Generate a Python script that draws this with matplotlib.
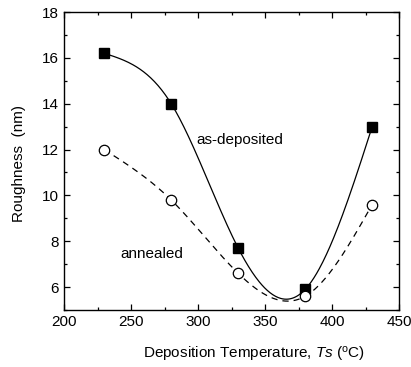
import numpy as np
import matplotlib
matplotlib.use("Agg")
import matplotlib.pyplot as plt

plt.rcParams['font.family'] = ['Liberation Sans', 'DejaVu Sans']
plt.rcParams['mathtext.fontset'] = 'custom'
plt.rcParams['mathtext.rm'] = 'Liberation Sans'
plt.rcParams['mathtext.it'] = 'Liberation Sans:italic'

# data
temps = [230, 280, 330, 380, 430]
as_deposited = [16.2, 14.0, 7.7, 5.9, 13.0]
annealed = [12.0, 9.8, 6.6, 5.6, 9.6]


def natural_spline(x, y, xs):
    # natural cubic spline through the points
    x = np.asarray(x, float)
    y = np.asarray(y, float)
    n = len(x)
    h = np.diff(x)
    A = np.zeros((n, n))
    b = np.zeros(n)
    A[0, 0] = 1
    A[-1, -1] = 1
    for i in range(1, n - 1):
        A[i, i - 1] = h[i - 1]
        A[i, i] = 2 * (h[i - 1] + h[i])
        A[i, i + 1] = h[i]
        b[i] = 6 * ((y[i + 1] - y[i]) / h[i] - (y[i] - y[i - 1]) / h[i - 1])
    M = np.linalg.solve(A, b)
    out = []
    for v in xs:
        i = min(max(np.searchsorted(x, v) - 1, 0), n - 2)
        t0 = x[i + 1] - v
        t1 = v - x[i]
        s = (M[i] * t0**3 + M[i + 1] * t1**3) / (6 * h[i]) \
            + (y[i] / h[i] - M[i] * h[i] / 6) * t0 \
            + (y[i + 1] / h[i] - M[i + 1] * h[i] / 6) * t1
        out.append(s)
    return np.array(out)


xs = np.linspace(temps[0], temps[-1], 300)

fig = plt.figure(figsize=(4.11, 3.67), dpi=100)
ax = fig.add_axes([64 / 411, 1 - 310 / 367, 335 / 411, 298 / 367])

ax.plot(xs, natural_spline(temps, as_deposited, xs), color='black', lw=0.9)
ax.plot(xs, natural_spline(temps, annealed, xs), color='black', lw=0.9,
        linestyle=(0, (5, 4)))
ax.plot(temps, as_deposited, 's', color='black', ms=6.5, linestyle='none')
ax.plot(temps, annealed, 'o', mfc='white', mec='black', mew=0.9, ms=7.5,
        linestyle='none')

ax.text(299, 12.4, 'as-deposited', fontsize=11, va='center', ha='left')
ax.text(242, 7.45, 'annealed', fontsize=11, va='center', ha='left')

ax.set_xlim(200, 450)
ax.set_ylim(5, 18)
ax.set_xticks([200, 250, 300, 350, 400, 450])
ax.set_xticks(np.arange(225, 450, 50), minor=True)
ax.set_yticks([6, 8, 10, 12, 14, 16, 18])
ax.set_yticks(np.arange(5, 18, 2), minor=True)
ax.tick_params(which='both', direction='in', top=True, right=True,
               labelsize=11, width=0.9)
ax.tick_params(which='major', length=4)
ax.tick_params(which='minor', length=2.5)
for sp in ax.spines.values():
    sp.set_linewidth(1.0)

ax.set_xlabel('Deposition Temperature, $\\mathit{Ts}$ ($^{\\rm o}$C)',
              fontsize=11, va='center')
ax.xaxis.set_label_coords(0.567, -0.151)
ax.set_ylabel('Roughness  (nm)', fontsize=11, va='center')
ax.yaxis.set_label_coords(-0.134, 0.49)

fig.savefig('out.png', dpi=100)
